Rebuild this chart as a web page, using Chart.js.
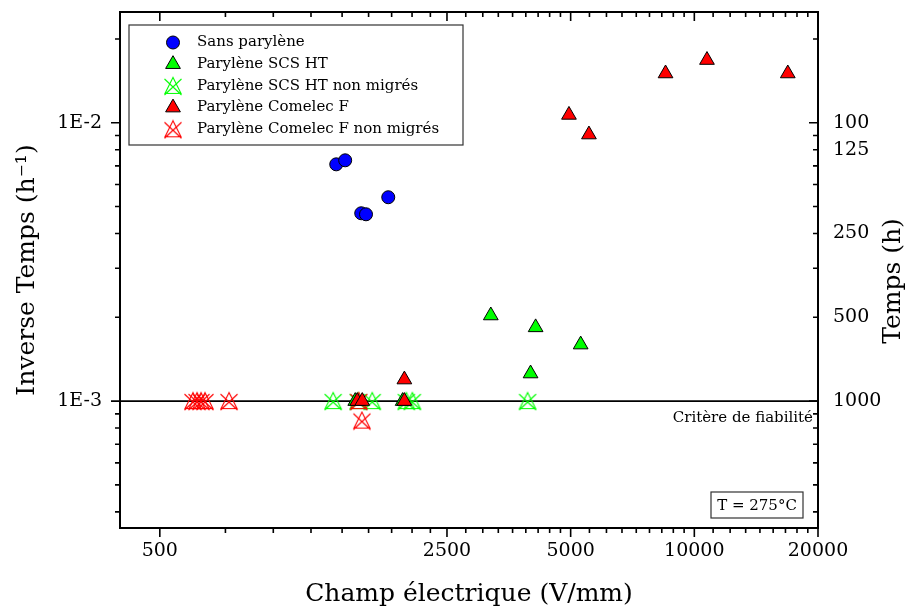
<!DOCTYPE html>
<html>
<head>
<meta charset="utf-8">
<script src="https://cdn.jsdelivr.net/npm/chart.js@4.4.0/dist/chart.umd.min.js"></script>
<style>
  html, body { margin: 0; padding: 0; background: #fff; }
  #wrap { width: 921px; height: 614px; }
</style>
</head>
<body>
<div id="wrap"><canvas id="chart" width="921" height="614"></canvas></div>
<script>
const FONT = '"DejaVu Serif", "Liberation Serif", serif';

// x = champ électrique (V/mm), y = inverse temps (h^-1)
const sansX = [1344, 1413, 1546, 1588, 1799];
const sansY = [7.09e-3, 7.33e-3, 4.73e-3, 4.69e-3, 5.40e-3];

const scsX = [3196, 4109, 5289, 3994, 1495, 1950];
const scsY = [2.03e-3, 1.84e-3, 1.596e-3, 1.256e-3, 1e-3, 1e-3];

const scsNmX = [1321, 1520, 1644, 1991, 2059, 3928];
const scsNmY = [1e-3, 1e-3, 1e-3, 1e-3, 1e-3, 1e-3];

const comX = [1969, 1512, 1555, 1969, 4953, 5540, 8510, 10735, 16885];
const comY = [1.195e-3, 1e-3, 1e-3, 1e-3, 1.067e-2, 9.07e-3, 1.503e-2, 1.68e-2, 1.503e-2];

const comNmX = [602, 616, 630, 644, 737, 1525, 1552];
const comNmY = [1e-3, 1e-3, 1e-3, 1e-3, 1e-3, 1e-3, 8.51e-4];

const critere = 1e-3;          // critère de fiabilité : 1000 h
const xRange = [400, 20000];
const yRange = [3.5e-4, 2.5e-2];
const xTicks = [500, 2500, 5000, 10000, 20000];
const yTicks = [1e-3, 1e-2];
const yTickLabels = ['1E-3', '1E-2'];
const timeTicks = [100, 125, 250, 500, 1000];

const pts = (xs, ys) => xs.map((x, i) => ({ x: x, y: ys[i] }));

// triangle barré (échantillons non migrés)
function crossTri(color) {
  const c = document.createElement('canvas');
  c.width = 20; c.height = 20;
  const g = c.getContext('2d');
  g.strokeStyle = color;
  g.lineWidth = 1.1;
  g.beginPath();
  g.moveTo(10, 1.5); g.lineTo(2, 17.5); g.lineTo(18, 17.5); g.closePath();
  g.moveTo(1.5, 3); g.lineTo(18.5, 19);
  g.moveTo(18.5, 3); g.lineTo(1.5, 19);
  g.stroke();
  return c;
}

const datasets = [
  { label: 'Sans parylène', data: pts(sansX, sansY), pointStyle: 'circle', pointRadius: 6.5,
    backgroundColor: '#0000ff', borderColor: '#000', borderWidth: 1, order: 1 },
  { label: 'Parylène SCS HT', data: pts(scsX, scsY), pointStyle: 'triangle', pointRadius: 8.5,
    backgroundColor: '#00ff00', borderColor: '#000', borderWidth: 1, order: 3 },
  { label: 'Parylène SCS HT non migrés', data: pts(scsNmX, scsNmY), pointStyle: crossTri('#00ff00'),
    pointRadius: 9, backgroundColor: '#00ff00', borderColor: '#00ff00', borderWidth: 0, order: 5 },
  { label: 'Parylène Comelec F', data: pts(comX, comY), pointStyle: 'triangle', pointRadius: 8.5,
    backgroundColor: '#ff0000', borderColor: '#000', borderWidth: 1, order: 2 },
  { label: 'Parylène Comelec F non migrés', data: pts(comNmX, comNmY), pointStyle: crossTri('#ff0000'),
    pointRadius: 9, backgroundColor: '#ff0000', borderColor: '#ff0000', borderWidth: 0, order: 4 },
  { type: 'line', label: 'critere', data: [{ x: xRange[0], y: critere }, { x: xRange[1], y: critere }],
    borderColor: '#000', borderWidth: 1.8, pointRadius: 0, order: 10 }
];

const tickFont = { family: FONT, size: 19 };
const titleFont = { family: FONT, size: 25 };

const framePlugin = {
  id: 'frame',
  afterDraw(chart) {
    const { ctx, chartArea: a, scales } = chart;
    ctx.save();
    ctx.strokeStyle = '#000';
    ctx.lineWidth = 2;
    ctx.strokeRect(a.left, a.top, a.right - a.left, a.bottom - a.top);

    ctx.lineWidth = 1.6;
    ctx.beginPath();
    const line = (x1, y1, x2, y2) => { ctx.moveTo(x1, y1); ctx.lineTo(x2, y2); };
    // x ticks : bas vers l'extérieur, haut vers l'intérieur
    const xs = scales.x;
    xTicks.forEach((v, i) => {
      const p = xs.getPixelForValue(v);
      line(p, a.bottom, p, a.bottom + 9);
      line(p, a.top, p, a.top + 9);
      if (i < xTicks.length - 1) {
        const step = (xTicks[i + 1] - v) / 9;
        for (let k = 1; k < 9; k++) {
          const q = xs.getPixelForValue(v + k * step);
          line(q, a.bottom, q, a.bottom + 5);
          line(q, a.top, q, a.top + 5);
        }
      }
    });
    // y ticks : gauche vers l'extérieur, droite vers l'intérieur
    const ys = scales.y;
    for (let e = -4; e <= -2; e++) {
      for (let k = 1; k <= 9; k++) {
        const v = k * Math.pow(10, e);
        if (v < yRange[0] || v > yRange[1]) continue;
        const p = ys.getPixelForValue(v);
        const len = k === 1 ? 9 : 5;
        line(a.left, p, a.left - len, p);
        line(a.right, p, a.right - len, p);
      }
    }
    ctx.stroke();

    // légende
    const lx = a.left + 9, ly = a.top + 13, lw = 334, lh = 120;
    ctx.fillStyle = '#fff';
    ctx.fillRect(lx, ly, lw, lh);
    ctx.strokeStyle = '#333';
    ctx.lineWidth = 1.2;
    ctx.strokeRect(lx, ly, lw, lh);
    ctx.font = '15px ' + FONT;
    ctx.textBaseline = 'middle';
    ctx.textAlign = 'left';
    datasets.slice(0, 5).forEach((d, i) => {
      const cy = ly + 17.5 + i * 21.7;
      const cx = lx + 44;
      ctx.fillStyle = d.backgroundColor;
      ctx.strokeStyle = d.borderColor;
      ctx.lineWidth = d.borderWidth;
      Chart.helpers.drawPoint(ctx, { pointStyle: d.pointStyle, radius: d.pointRadius, borderWidth: d.borderWidth, rotation: 0 }, cx, cy);
      ctx.fillStyle = '#000';
      ctx.fillText(d.label, lx + 68, cy);
    });

    // critère de fiabilité
    const yc = ys.getPixelForValue(critere);
    ctx.font = '15px ' + FONT;
    ctx.textAlign = 'right';
    ctx.textBaseline = 'alphabetic';
    ctx.fillStyle = '#000';
    ctx.fillText('Critère de fiabilité', a.right - 5, yc + 21);

    // température
    const bx = a.right - 107, by = a.bottom - 36, bw = 92, bh = 26;
    ctx.strokeStyle = '#333';
    ctx.lineWidth = 1.2;
    ctx.strokeRect(bx, by, bw, bh);
    ctx.textAlign = 'center';
    ctx.textBaseline = 'middle';
    ctx.fillText('T = 275°C', bx + bw / 2, by + bh / 2 + 1);

    // titre de l'axe droit
    ctx.translate(893, 281);
    ctx.rotate(-Math.PI / 2);
    ctx.font = '25px ' + FONT;
    ctx.fillText('Temps (h)', 0, 0);
    ctx.restore();
  }
};

const fitV = w => s => { s.width = w; s.paddingTop = 0; s.paddingBottom = 0; };

new Chart(document.getElementById('chart'), {
  type: 'scatter',
  data: { datasets: datasets },
  options: {
    responsive: false,
    animation: false,
    layout: { padding: { top: 12, left: 0, right: 0, bottom: 0 } },
    plugins: { legend: { display: false }, tooltip: { enabled: false } },
    scales: {
      x: {
        type: 'logarithmic', min: xRange[0], max: xRange[1],
        afterBuildTicks: s => { s.ticks = xTicks.map(v => ({ value: v })); },
        afterFit: s => { s.height = 86; s.paddingLeft = 0; s.paddingRight = 0; },
        grid: { display: false, drawTicks: false },
        border: { display: false },
        ticks: { font: tickFont, color: '#000', padding: 12, maxRotation: 0, autoSkip: false,
          callback: v => String(v) },
        title: { display: true, text: 'Champ électrique (V/mm)', font: titleFont, color: '#000',
          padding: { top: 0, bottom: 5 } }
      },
      y: {
        type: 'logarithmic', position: 'left', min: yRange[0], max: yRange[1],
        afterBuildTicks: s => { s.ticks = yTicks.map(v => ({ value: v })); },
        afterFit: fitV(120),
        grid: { display: false, drawTicks: false },
        border: { display: false },
        ticks: { font: tickFont, color: '#000', padding: 18, autoSkip: false,
          callback: v => { const i = yTicks.findIndex(t => Math.abs(t - v) / t < 1e-6); return i < 0 ? '' : yTickLabels[i]; } },
        title: { display: true, text: 'Inverse Temps (h⁻¹)', font: titleFont, color: '#000',
          padding: { top: 12, bottom: 0 } }
      },
      y2: {
        type: 'logarithmic', position: 'right', min: yRange[0], max: yRange[1],
        afterBuildTicks: s => { s.ticks = timeTicks.map(t => ({ value: 1 / t })); },
        afterFit: fitV(103),
        grid: { display: false, drawTicks: false },
        border: { display: false },
        ticks: { font: tickFont, color: '#000', padding: 15, autoSkip: false,
          callback: v => String(Math.round(1 / v)) }
      }
    }
  },
  plugins: [framePlugin]
});
</script>
</body>
</html>
